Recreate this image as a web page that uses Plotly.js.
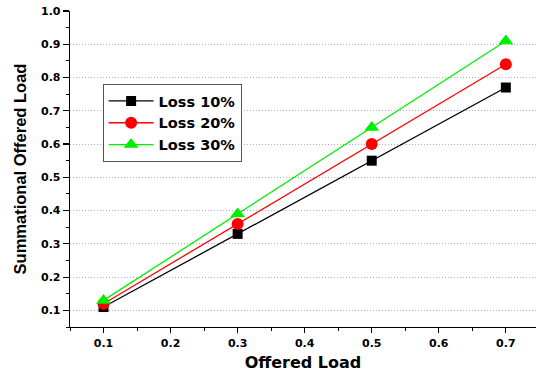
<!DOCTYPE html>
<html>
<head>
<meta charset="utf-8">
<script src="https://cdn.plot.ly/plotly-3.0.1.min.js"></script>
<style>html,body{margin:0;padding:0;background:#fff;}#chart{width:536px;height:373px;}</style>
</head>
<body>
<div id="chart"></div>
<script>
const offeredLoad = [0.1, 0.3, 0.5, 0.7];
const loss10 = [0.11, 0.33, 0.55, 0.77];
const loss20 = [0.12, 0.36, 0.60, 0.84];
const loss30 = [0.13, 0.39, 0.65, 0.91];
const seriesNames = ['Loss 10%', 'Loss 20%', 'Loss 30%'];
const xTicks = [0.1, 0.2, 0.3, 0.4, 0.5, 0.6, 0.7];
const yTicks = [0.1, 0.2, 0.3, 0.4, 0.5, 0.6, 0.7, 0.8, 0.9, 1.0];
const yGridVals = [0.1, 0.2, 0.3, 0.4, 0.5, 0.6, 0.7, 0.8, 0.9];

const boldFont = 'DejaVu Sans';
const traces = [
  {x: offeredLoad, y: loss10, name: seriesNames[0], mode: 'lines+markers',
   line: {color: '#000000', width: 1.3}, marker: {symbol: 'square', size: 10, color: '#000000'}},
  {x: offeredLoad, y: loss20, name: seriesNames[1], mode: 'lines+markers',
   line: {color: '#ff0000', width: 1.3}, marker: {symbol: 'circle', size: 12, color: '#ff0000'}},
  {x: offeredLoad, y: loss30, name: seriesNames[2], mode: 'lines+markers',
   line: {color: '#00ee00', width: 1.3}, marker: {symbol: 'triangle-up', size: 13, color: '#00ee00'}},
  // invisible helper trace on the grid axis so it is drawn
  {x: [offeredLoad[0]], y: [loss10[0]], yaxis: 'y2', mode: 'markers', marker: {opacity: 0}, showlegend: false, hoverinfo: 'skip'}
];

const layout = {
  width: 536, height: 373,
  margin: {l: 70, r: 0, t: 11, b: 46},
  paper_bgcolor: '#ffffff', plot_bgcolor: 'rgba(0,0,0,0)',
  showlegend: true,
  legend: {x: 0.07, y: 0.769, xanchor: 'left', yanchor: 'top',
    bordercolor: '#555555', borderwidth: 1, bgcolor: '#ffffff',
    font: {family: boldFont, size: 14.5, weight: 'bold', color: '#000'},
    itemwidth: 45, tracegroupgap: 0},
  xaxis: {
    range: [0.05, 0.745], tickvals: xTicks, ticktext: xTicks.map(v => v.toFixed(1)),
    showgrid: false, zeroline: false, showline: true, linecolor: '#000', linewidth: 1.3,
    ticks: 'outside', ticklen: 5, tickwidth: 1.2, tickcolor: '#000',
    minor: {dtick: 0.05, tick0: 0.05, ticks: 'outside', ticklen: 3, tickwidth: 1, tickcolor: '#000', showgrid: false},
    tickfont: {family: boldFont, size: 11, weight: 'bold', color: '#000'},
    title: {text: 'Offered Load', font: {family: boldFont, size: 16, weight: 'bold', color: '#000'}, standoff: 8}
  },
  yaxis: {
    range: [0.05, 1.0], tickvals: yTicks, ticktext: yTicks.map(v => v.toFixed(1)),
    showgrid: false,
    zeroline: false, showline: true, linecolor: '#000', linewidth: 1.3,
    ticks: 'outside', ticklen: 6, tickwidth: 1.2, tickcolor: '#000',
    minor: {dtick: 0.05, tick0: 0.05, ticks: 'outside', ticklen: 3, tickwidth: 1, tickcolor: '#000', showgrid: false},
    tickfont: {family: boldFont, size: 11, weight: 'bold', color: '#000'},
    title: {text: 'Summational Offered Load', font: {family: 'Liberation Sans', size: 16.5, weight: 'bold', color: '#000'}, standoff: 10}
  },
  yaxis2: {
    overlaying: 'y', range: [0.05, 1.0], tickvals: yGridVals, showticklabels: false, ticks: '',
    showgrid: true, gridcolor: '#aaaadd', griddash: '1px,2px', gridwidth: 1,
    zeroline: false, showline: false, layer: 'below traces'
  }
};

Plotly.newPlot('chart', traces, layout, {displayModeBar: false, staticPlot: true});
</script>
</body>
</html>
